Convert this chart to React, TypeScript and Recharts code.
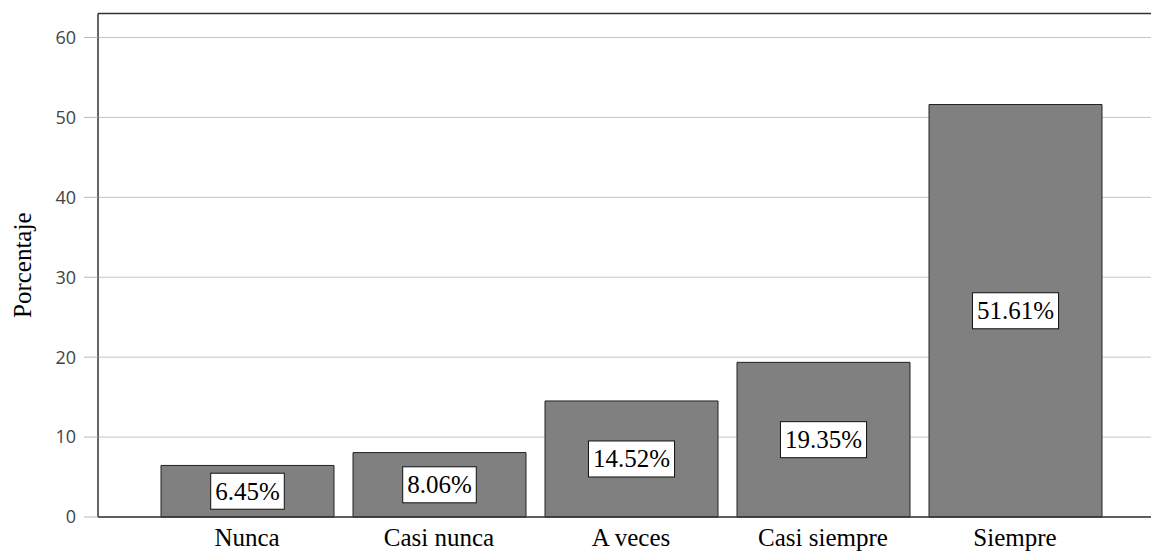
import { Bar, BarChart, CartesianGrid, LabelList, ReferenceLine, XAxis, YAxis } from "recharts";

const categories = ["Nunca", "Casi nunca", "A veces", "Casi siempre", "Siempre"];
const percentages = [6.45, 8.06, 14.52, 19.35, 51.61];
const yTicks = [0, 10, 20, 30, 40, 50, 60];
const yMax = 63;

const data = categories.map((name, i) => ({ name, value: percentages[i] }));

const serif = "'Liberation Serif', 'Times New Roman', serif";

function charWidth(c: string) {
  if (c === ".") return 0.25;
  if (c === "%") return 0.833;
  return 0.5;
}

function BoxLabel(props: any) {
  const { x, y, width, height, value } = props;
  const text = `${Number(value).toFixed(2)}%`;
  const fontSize = 25;
  const textW = text.split("").reduce((s, c) => s + charWidth(c), 0) * fontSize;
  const boxW = textW + 9;
  const boxH = 36;
  const cx = x + width / 2;
  const cy = y + height / 2;
  return (
    <g>
      <rect x={cx - boxW / 2} y={cy - boxH / 2} width={boxW} height={boxH} fill="#fff" stroke="#111" strokeWidth={1} />
      <text x={cx} y={cy} textAnchor="middle" dominantBaseline="central" fontFamily={serif} fontSize={fontSize} fill="#000">
        {text}
      </text>
    </g>
  );
}

function AxisTitle(props: any) {
  const vb = props.viewBox || { x: 0, y: 0, height: 0 };
  const cx = 22;
  const cy = vb.y + vb.height / 2;
  return (
    <text x={cx} y={cy} transform={`rotate(-90 ${cx} ${cy})`} textAnchor="middle" dominantBaseline="central" fontFamily={serif} fontSize={25} fill="#000">
      Porcentaje
    </text>
  );
}

export default function App() {
  return (
    <div style={{ width: 1151, height: 552, background: "#fff" }}>
      <style>{`body{margin:0}`}</style>
      <BarChart width={1151} height={552} data={data} margin={{ top: 13.5, right: 0, left: 0, bottom: 0 }}>
        <CartesianGrid vertical={false} stroke="#c4c4c4" />
        <XAxis
          dataKey="name"
          padding={{ left: 53, right: 40 }}
          axisLine={{ stroke: "#333", strokeWidth: 1.5 }}
          tickLine={false}
          tickSize={0}
          tickMargin={11}
          tick={{ fontFamily: serif, fontSize: 25, fill: "#000" }}
          height={35}
          interval={0}
        />
        <YAxis
          width={98}
          domain={[0, yMax]}
          ticks={yTicks}
          axisLine={{ stroke: "#333", strokeWidth: 1.5 }}
          tickLine={{ stroke: "#b8b8b8" }}
          tickSize={14}
          tickMargin={8}
          tick={{ fontFamily: "'Open Sans', 'Noto Sans', sans-serif", fontSize: 18, fill: "#444" }}
          label={<AxisTitle />}
        />
        <ReferenceLine y={yMax} stroke="#333" strokeWidth={1.5} />
        <Bar dataKey="value" fill="#808080" stroke="#222" strokeWidth={1} barSize={173} isAnimationActive={false}>
          <LabelList dataKey="value" content={<BoxLabel />} />
        </Bar>
      </BarChart>
    </div>
  );
}
